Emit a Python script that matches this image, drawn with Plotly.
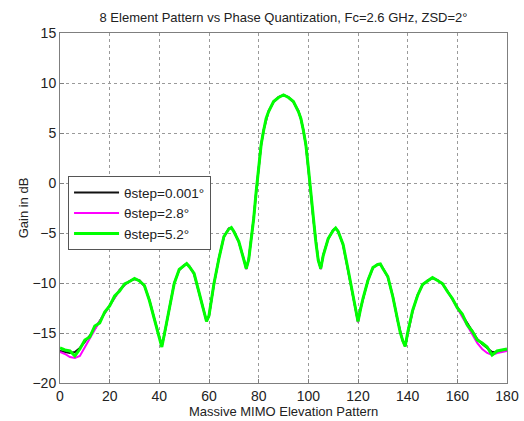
import plotly.graph_objects as go

# Elevation angle samples (degrees)
angle = [0, 2, 4, 6, 8, 10, 12, 14, 16, 18, 20, 22, 24, 26, 28, 30, 32, 34, 36, 38,
         39, 40, 41, 42, 43, 44, 46, 48, 50, 51, 52, 54, 56, 58, 59, 60, 61, 62, 64, 66,
         68, 69, 70, 72, 74, 75, 76, 77, 78, 79, 80, 81, 82, 83, 84, 86, 88, 90, 92, 94,
         96, 97, 98, 99, 100, 101, 102, 103, 104, 105, 106, 108, 110, 111, 112, 114, 116, 118, 119, 120,
         121, 122, 124, 126, 128, 129, 130, 132, 134, 136, 137, 138, 139, 140, 141, 142, 144, 146, 148, 150,
         152, 154, 156, 158, 160, 162, 164, 166, 168, 170, 172, 174, 176, 178, 180]

# Gain (dB), fine phase step 0.001 deg
gain_fine = [-16.8, -16.9, -17.0, -16.9, -16.5, -15.9, -15.3, -14.6, -13.8, -13.0, -12.2, -11.4, -10.7, -10.2, -9.8, -9.6, -9.75, -10.3, -11.7, -13.6,
             -14.6, -15.6, -16.3, -15.2, -13.9, -12.5, -10.0, -8.7, -8.2, -8.1, -8.3, -9.1, -10.9, -12.9, -13.8, -13.3, -11.7, -10.1, -7.5, -5.4,
             -4.55, -4.5, -4.8, -5.9, -7.6, -8.6, -7.6, -5.8, -3.5, -0.9, 1.8, 3.8, 5.3, 6.4, 7.2, 8.1, 8.6, 8.8, 8.6, 8.1,
             7.2, 6.4, 5.3, 3.8, 1.6, -1.0, -3.6, -5.9, -7.7, -8.6, -7.2, -5.6, -4.7, -4.55, -4.8, -6.2, -8.6, -11.3, -12.6, -13.9,
             -12.6, -11.6, -9.7, -8.5, -8.1, -8.15, -8.5, -9.4, -11.3, -13.8, -14.9, -15.8, -16.3, -15.0, -13.9, -12.8, -11.2, -10.2, -9.75, -9.5,
             -9.7, -10.1, -10.8, -11.6, -12.4, -13.2, -14.1, -14.9, -15.6, -16.1, -16.5, -16.9, -16.9, -16.8, -16.8]

# Gain (dB), phase step 2.8 deg
gain_step28 = [-16.9, -17.1, -17.4, -17.5, -17.3, -16.4, -15.6, -14.7, -13.8, -13.0, -12.2, -11.4, -10.7, -10.2, -9.8, -9.6, -9.75, -10.3, -11.7, -13.6,
               -14.6, -15.6, -16.3, -15.2, -13.9, -12.5, -10.0, -8.7, -8.2, -8.1, -8.3, -9.1, -10.9, -12.9, -13.8, -13.3, -11.7, -10.1, -7.5, -5.4,
               -4.55, -4.5, -4.8, -5.9, -7.6, -8.6, -7.6, -5.8, -3.5, -0.9, 1.8, 3.8, 5.3, 6.4, 7.2, 8.1, 8.6, 8.8, 8.6, 8.1,
               7.2, 6.4, 5.3, 3.8, 1.6, -1.0, -3.6, -5.9, -7.7, -8.6, -7.2, -5.6, -4.7, -4.55, -4.8, -6.2, -8.6, -11.3, -12.6, -13.9,
               -12.6, -11.6, -9.7, -8.5, -8.1, -8.15, -8.5, -9.4, -11.3, -13.8, -14.9, -15.8, -16.3, -15.0, -13.9, -12.8, -11.2, -10.2, -9.75, -9.5,
               -9.7, -10.1, -10.8, -11.6, -12.5, -13.4, -14.3, -15.2, -16.0, -16.6, -17.0, -17.2, -17.0, -16.9, -16.8]

# Gain (dB), phase step 5.2 deg
gain_step52 = [-16.5, -16.7, -16.8, -17.3, -16.6, -15.7, -15.4, -14.3, -14.0, -12.9, -12.3, -11.3, -10.8, -10.1, -9.85, -9.55, -9.8, -10.25, -11.75, -13.55,
               -14.65, -15.55, -16.4, -15.15, -13.95, -12.45, -10.05, -8.65, -8.25, -8.05, -8.35, -9.05, -10.95, -12.85, -13.85, -13.25, -11.75, -10.05, -7.55, -5.35,
               -4.6, -4.45, -4.85, -5.85, -7.65, -8.55, -7.65, -5.75, -3.55, -0.85, 1.75, 3.85, 5.25, 6.45, 7.15, 8.15, 8.55, 8.8, 8.55, 8.15,
               7.15, 6.45, 5.25, 3.85, 1.55, -0.95, -3.65, -5.85, -7.75, -8.55, -7.25, -5.55, -4.75, -4.5, -4.85, -6.15, -8.65, -11.25, -12.65, -13.85,
               -12.65, -11.55, -9.75, -8.45, -8.15, -8.1, -8.55, -9.35, -11.35, -13.75, -14.95, -15.75, -16.35, -14.95, -13.95, -12.75, -11.25, -10.15, -9.8, -9.45,
               -9.75, -10.05, -10.85, -11.55, -12.5, -13.1, -14.2, -14.8, -15.7, -16.0, -16.4, -17.2, -16.8, -16.7, -16.6]

series_names = ["\u03b8step=0.001\u00b0", "\u03b8step=2.8\u00b0", "\u03b8step=5.2\u00b0"]
series_gains = [gain_fine, gain_step28, gain_step52]
series_colors = ["#111111", "#ff00ff", "#00ff00"]
series_widths = [2, 2, 3]

x_ticks = [0, 20, 40, 60, 80, 100, 120, 140, 160, 180]
y_ticks = [-20, -15, -10, -5, 0, 5, 10, 15]

FONT = "Liberation Sans, Arial, sans-serif"
TEXT_COLOR = "#222222"

fig = go.Figure()
for name, g, c, w in zip(series_names, series_gains, series_colors, series_widths):
    fig.add_trace(go.Scatter(x=angle, y=g, mode="lines", name=name,
                             line=dict(color=c, width=w)))

axis_common = dict(
    showline=True, linecolor="#7f7f7f", linewidth=1, mirror=True,
    showgrid=True, gridcolor="#9a9a9a", griddash="dot", gridwidth=1,
    zeroline=False, ticks="inside", ticklen=4, tickcolor="#7f7f7f",
    tickfont=dict(family=FONT, size=14, color=TEXT_COLOR),
    automargin=False,
)

fig.update_xaxes(range=[0, 180], tickvals=x_ticks, **axis_common)
fig.update_yaxes(range=[-20, 15], tickvals=y_ticks,
                 title=dict(text="Gain in dB", standoff=0,
                            font=dict(family=FONT, size=13, color=TEXT_COLOR)),
                 **axis_common)

# x-axis label placed just below the tick labels
fig.add_annotation(text="Massive MIMO Elevation Pattern",
                   x=0.5, xref="paper", xanchor="center",
                   y=-29 / 350, yref="paper", yanchor="middle",
                   showarrow=False,
                   font=dict(family=FONT, size=13, color=TEXT_COLOR))

fig.update_layout(
    width=524, height=421,
    margin=dict(l=60, r=17, t=33, b=38),
    paper_bgcolor="white", plot_bgcolor="white",
    title=dict(text="8 Element Pattern vs Phase Quantization, Fc=2.6 GHz, ZSD=2\u00b0",
               x=0.5, xref="paper", xanchor="center",
               y=1 - 17 / 421, yref="container", yanchor="middle",
               font=dict(family=FONT, size=13, color=TEXT_COLOR)),
    legend=dict(x=0.018, y=0.591, xanchor="left", yanchor="top",
                bgcolor="white", bordercolor="#555555", borderwidth=1,
                font=dict(family=FONT, size=13.5, color=TEXT_COLOR),
                tracegroupgap=0, itemwidth=45),
    showlegend=True,
)

fig.write_html("out.html")
